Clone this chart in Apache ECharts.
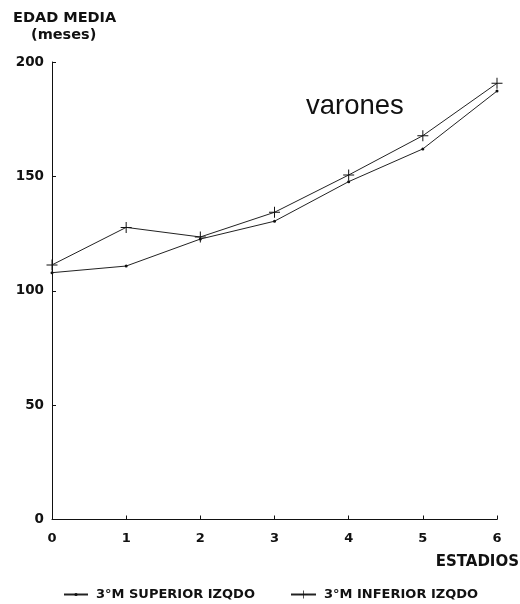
<!DOCTYPE html>
<html>
<head>
<meta charset="utf-8">
<script src="https://cdn.jsdelivr.net/npm/echarts@6/dist/echarts.min.js"></script>
<style>
html,body{margin:0;padding:0;background:#fff;}
#chart{width:520px;height:604px;}
</style>
</head>
<body>
<div id="chart"></div>
<script>
var stages = [0, 1, 2, 3, 4, 5, 6];
var superiorValues = [107.9, 110.8, 122.6, 130.4, 147.7, 162.0, 187.3];
var inferiorValues = [111.3, 127.7, 123.5, 134.3, 150.6, 167.8, 190.7];
var seriesNames = ['3°M SUPERIOR IZQDO', '3°M INFERIOR IZQDO'];
var yTicks = [0, 50, 100, 150, 200];

var FONT = '"DejaVu Sans", "Liberation Sans", sans-serif';
var plus = 'path://M-0.45,-5 L0.45,-5 L0.45,-0.45 L5,-0.45 L5,0.45 L0.45,0.45 L0.45,5 L-0.45,5 L-0.45,0.45 L-5,0.45 L-5,-0.45 L-0.45,-0.45 Z';

function pairs(vals) { return stages.map(function (s, i) { return [s, vals[i]]; }); }

var legendText = {color: '#111', fontFamily: FONT, fontWeight: 'bold', fontSize: 13, padding: [0, 0, 0, 3]};

var chart = echarts.init(document.getElementById('chart'), null, {renderer: 'canvas'});
chart.setOption({
  backgroundColor: '#fff',
  animation: false,
  grid: {left: 52, right: 23, top: 62, bottom: 84.5, containLabel: false},
  xAxis: {
    type: 'value', min: 0, max: 6, interval: 1,
    axisLine: {show: true, lineStyle: {color: '#111', width: 1}},
    axisTick: {show: true, inside: true, length: 4, lineStyle: {color: '#111'}},
    axisLabel: {margin: 13, color: '#111', fontFamily: FONT, fontWeight: 'bold', fontSize: 13},
    splitLine: {show: false}
  },
  yAxis: {
    type: 'value', min: yTicks[0], max: yTicks[yTicks.length - 1], interval: 50,
    axisLine: {show: true, lineStyle: {color: '#111', width: 1}},
    axisTick: {show: true, inside: true, length: 4, lineStyle: {color: '#111'}},
    axisLabel: {margin: 8, color: '#111', fontFamily: FONT, fontWeight: 'bold', fontSize: 13.5},
    splitLine: {show: false}
  },
  legend: [
    {
      top: 583, left: 58,
      itemWidth: 24, itemHeight: 4,
      textStyle: legendText,
      data: [seriesNames[0]]
    },
    {
      top: 583, left: 285,
      itemWidth: 25, itemHeight: 10,
      textStyle: legendText,
      data: [seriesNames[1]]
    }
  ],
  graphic: [
    {type: 'text', left: 13, top: 11, style: {text: 'EDAD MEDIA', fill: '#111', font: 'bold 14.5px ' + FONT}},
    {type: 'text', left: 31, top: 28, style: {text: '(meses)', fill: '#111', font: 'bold 14.5px ' + FONT}},
    {type: 'text', right: 1, top: 555, style: {text: 'ESTADIOS', fill: '#111', font: 'bold 15px ' + FONT}},
    {type: 'text', left: 306, top: 92, style: {text: 'varones', fill: '#111', font: '27.5px "Liberation Sans", Arial, sans-serif'}}
  ],
  series: [
    {
      name: seriesNames[0], type: 'line', data: pairs(superiorValues),
      symbol: 'circle', symbolSize: 3,
      lineStyle: {color: '#222', width: 1},
      itemStyle: {color: '#111'}
    },
    {
      name: seriesNames[1], type: 'line', data: pairs(inferiorValues),
      symbol: plus, symbolSize: 11,
      lineStyle: {color: '#222', width: 1},
      itemStyle: {color: '#111'}
    }
  ]
});
</script>
</body>
</html>
